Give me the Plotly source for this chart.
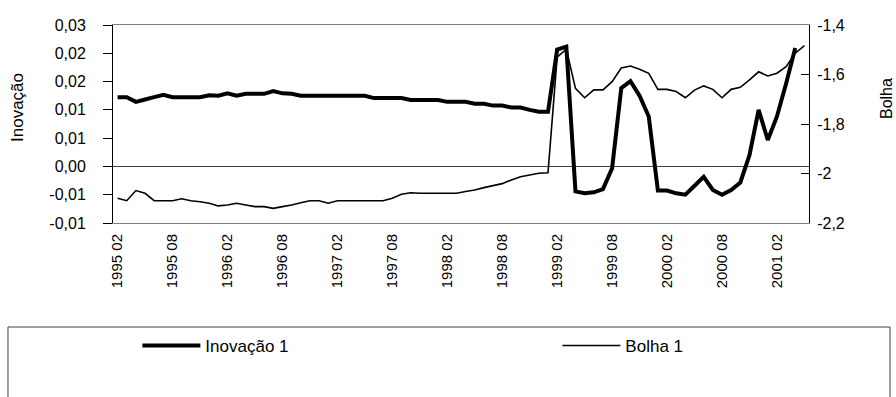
import plotly.graph_objects as go

# ---- data ----
months = [f"{1995 + (1 + i) // 12} {((1 + i) % 12) + 1:02d}" for i in range(76)]  # 1995 02 .. 2001 05

inovacao = [0.0147, 0.0147, 0.0137, 0.0142, 0.0147, 0.0152, 0.0147, 0.0147, 0.0147, 0.0147,
            0.0151, 0.0150, 0.0155, 0.0150, 0.0154, 0.0154, 0.0154, 0.0160, 0.0155, 0.0154,
            0.0150, 0.0150, 0.0150, 0.0150, 0.0150, 0.0150, 0.0150, 0.0150, 0.0145, 0.0145,
            0.0145, 0.0145, 0.0141, 0.0141, 0.0141, 0.0141, 0.0137, 0.0137, 0.0137, 0.0133,
            0.0133, 0.0129, 0.0129, 0.0125, 0.0125, 0.0120, 0.0116, 0.0116, 0.0248, 0.0254,
            -0.0053, -0.0057, -0.0055, -0.0048, -0.0004, 0.0166, 0.0181, 0.0150, 0.0106, -0.0051,
            -0.0051, -0.0057, -0.0060, -0.0041, -0.0022, -0.0050, -0.0060, -0.0050, -0.0034, 0.0024,
            0.0120, 0.0056, 0.0106, 0.0176, 0.0251, None]

bolha = [-2.100, -2.110, -2.069, -2.080, -2.110, -2.110, -2.110, -2.102, -2.110, -2.114,
         -2.120, -2.131, -2.127, -2.120, -2.127, -2.134, -2.134, -2.141, -2.134, -2.127,
         -2.118, -2.110, -2.110, -2.120, -2.110, -2.110, -2.110, -2.110, -2.110, -2.110,
         -2.100, -2.084, -2.078, -2.080, -2.080, -2.080, -2.080, -2.080, -2.073, -2.067,
         -2.057, -2.049, -2.041, -2.026, -2.013, -2.006, -1.999, -1.997, -1.530, -1.498,
         -1.656, -1.694, -1.662, -1.662, -1.629, -1.574, -1.566, -1.579, -1.595, -1.660,
         -1.660, -1.669, -1.694, -1.663, -1.646, -1.660, -1.694, -1.660, -1.652, -1.622,
         -1.589, -1.606, -1.595, -1.568, -1.514, -1.483]

x_tick_labels = ["1995 02", "1995 08", "1996 02", "1996 08", "1997 02", "1997 08", "1998 02",
                 "1998 08", "1999 02", "1999 08", "2000 02", "2000 08", "2001 02"]

left_tickvals = [-0.012, -0.006, 0.0, 0.006, 0.012, 0.018, 0.024, 0.03]
left_ticktext = ["-0,01", "-0,01", "0,00", "0,01", "0,01", "0,02", "0,02", "0,03"]
right_tickvals = [-2.2, -2.0, -1.8, -1.6, -1.4]
right_ticktext = ["-2,2", "-2", "-1,8", "-1,6", "-1,4"]

FONT = "Liberation Sans, Arial, sans-serif"

fig = go.Figure()
fig.add_trace(go.Scatter(x=months, y=inovacao, name="Inovação 1", mode="lines",
                         line=dict(color="black", width=4, simplify=False), yaxis="y",
                         connectgaps=False, legendwidth=347))
fig.add_trace(go.Scatter(x=months, y=bolha, name="Bolha 1", mode="lines",
                         line=dict(color="black", width=1.6, simplify=False), yaxis="y2",
                         legendwidth=70))

fig.update_layout(
    width=896, height=397,
    margin=dict(l=113, r=87, t=25, b=174),
    paper_bgcolor="white", plot_bgcolor="white",
    font=dict(family=FONT, color="black", size=16),
    showlegend=True,
    legend=dict(orientation="h", x=0.035, xanchor="left", y=-0.621, yanchor="middle",
                font=dict(size=17), itemwidth=58, bgcolor="rgba(0,0,0,0)",
                borderwidth=0),
    xaxis=dict(type="category", categoryorder="array", categoryarray=months,
               range=[-0.5, 75.5],
               tickmode="array", tickvals=[months[i] for i in range(0, 73, 6)],
               ticktext=x_tick_labels, tickangle=-90, tickfont=dict(size=15),
               ticks="", showgrid=False, showline=True, mirror=True,
               linecolor="#808080", linewidth=1, zeroline=False, ticklabelstandoff=4),
    yaxis=dict(range=[-0.012, 0.03], tickmode="array", tickvals=left_tickvals,
               ticktext=left_ticktext, ticks="outside", ticklen=9, tickcolor="black",
               showline=True, linecolor="black", linewidth=1, showgrid=False,
               zeroline=True, zerolinecolor="#404040", zerolinewidth=1,
               tickfont=dict(size=16), ticklabelstandoff=14),
    yaxis2=dict(range=[-2.2, -1.4], overlaying="y", side="right", tickmode="array",
                tickvals=right_tickvals, ticktext=right_ticktext, ticks="inside",
                ticklen=8, tickcolor="black", showline=True, linecolor="black",
                linewidth=1, showgrid=False, zeroline=False, tickfont=dict(size=16),
                ticklabelstandoff=4),
    annotations=[
        dict(text="Inovação", xref="paper", yref="paper", x=-0.1365, y=0.586,
             xanchor="center", yanchor="middle", textangle=-90, showarrow=False,
             font=dict(size=17)),
        dict(text="Bolha", xref="paper", yref="paper", x=1.1106, y=0.631,
             xanchor="center", yanchor="middle", textangle=-90, showarrow=False,
             font=dict(size=16)),
    ],
    shapes=[
        dict(type="rect", xref="paper", yref="paper", x0=-0.1509, x1=1.1164,
             y0=-0.5253, y1=-0.995, line=dict(color="#404040", width=1),
             fillcolor="rgba(0,0,0,0)", layer="below"),
    ],
)

fig.write_html("out.html", config={"displayModeBar": False},
               post_script="document.body.style.margin='0';document.body.style.overflow='hidden';")
